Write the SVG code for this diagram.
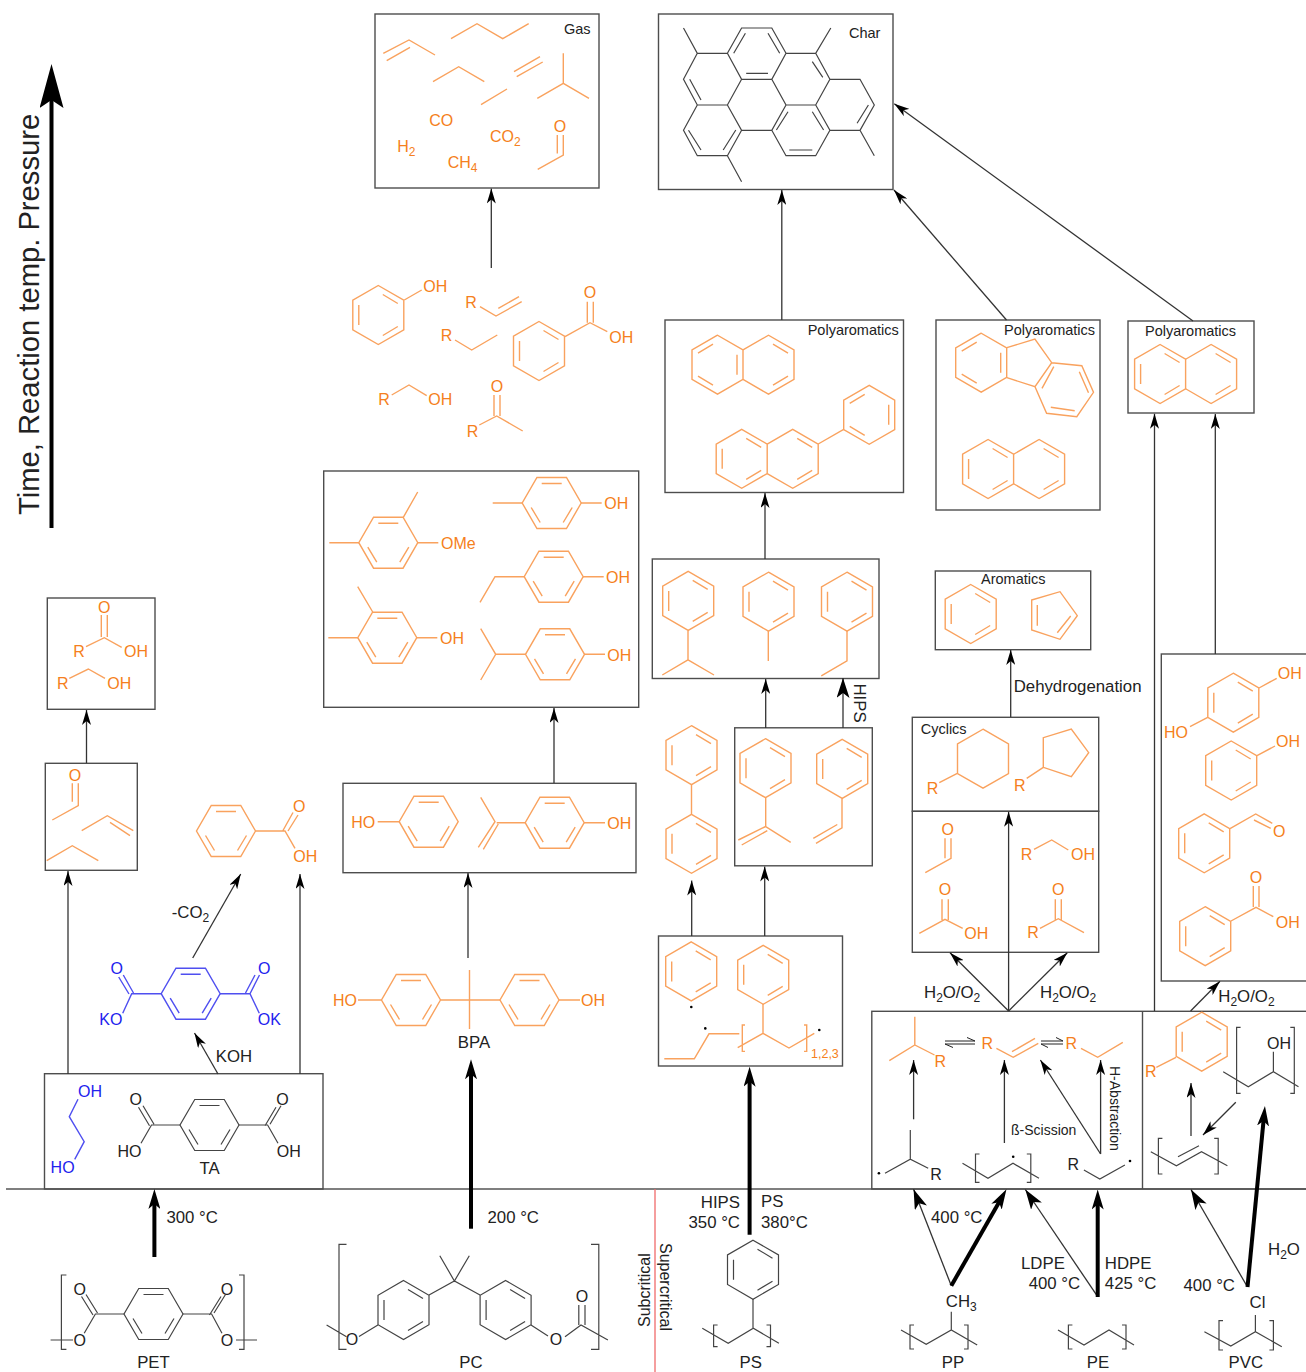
<svg xmlns="http://www.w3.org/2000/svg" width="1306" height="1372" viewBox="0 0 1306 1372">
<style>
.o{fill:none;stroke:#f9a25e;stroke-width:1.4}
.k{fill:none;stroke:#444;stroke-width:1.2}
.b{fill:none;stroke:#4f4ff0;stroke-width:1.4}
.box{fill:none;stroke:#4d4d4d;stroke-width:1.4}
text{font-family:"Liberation Sans",Arial,sans-serif;font-size:16px;fill:#222;stroke:none}
text.to{fill:#f57f20}
text.tb{fill:#2222ee}
text.c{text-anchor:middle}
text.e{text-anchor:end}
text.s{font-size:14.5px}
text.n,#labels text{font-size:16.8px}
.sub{font-size:12px;baseline-shift:-4px}
.con{fill:none;stroke:#333;stroke-width:1.3;marker-end:url(#a)}
.big{fill:none;stroke:#333;stroke-width:1.3;marker-end:url(#bt)}
.thick{fill:none;stroke:#000;stroke-width:4;marker-end:url(#b)}
.eq{fill:none;stroke:#222;stroke-width:1}
</style>
<defs>
<marker id="a" markerUnits="userSpaceOnUse" markerWidth="15" markerHeight="9" refX="15" refY="4.5" orient="auto"><path d="M0,0 L15,4.5 L0,9 L4,4.5Z" fill="#000"/></marker>
<marker id="b" markerUnits="userSpaceOnUse" markerWidth="20" markerHeight="12" refX="8" refY="6" orient="auto"><path d="M0,0 L20,6 L0,12 L5,6Z" fill="#000"/></marker>
<marker id="bt" markerUnits="userSpaceOnUse" markerWidth="20" markerHeight="13" refX="20" refY="6.5" orient="auto"><path d="M0,0 L20,6.5 L0,13 L5,6.5Z" fill="#000"/></marker>
<marker id="ax" markerUnits="userSpaceOnUse" markerWidth="44" markerHeight="24" refX="8" refY="12" orient="auto"><path d="M0,0 L44,12 L0,24 L8,12Z" fill="#000"/></marker>
<g id="rp"><path d="M0,-29.5 L25.5,-14.75 V14.75 L0,29.5 L-25.5,14.75 V-14.75Z"/><path d="M4.5,-20.5 L19.5,-11.5 M19.5,11.5 L4.5,20.5 M-19.5,-10 V10"/></g>
<g id="rm" transform="scale(-1,1)"><use href="#rp"/></g>
<g id="rf" transform="rotate(90)"><use href="#rp"/></g>
<path id="nr" d="M0,-14.75 L25.5,-29.5 L51,-14.75 V14.75 L25.5,29.5 L0,14.75 M30,-20.5 L45,-11.5 M45,11.5 L30,20.5"/>
<g id="nA"><use href="#rm" x="-25.5"/><use href="#nr"/></g>
<g id="nB"><use href="#rp" x="-25.5"/><use href="#nr"/></g>
</defs>
<rect width="1306" height="1372" fill="#fff"/>

<g id="frame">
<path d="M6,1189 H1306" stroke="#555" stroke-width="1.3" fill="none"/>
<path d="M655,1189 V1372" stroke="#f06a6a" stroke-width="1.3" fill="none"/>
<text transform="translate(650,1327) rotate(-90)">Subcritical</text>
<text transform="translate(660,1243) rotate(90)">Supercritical</text>
</g>

<g id="axis">
<path d="M51.5,528 V100" fill="none" stroke="#000" stroke-width="4" marker-end="url(#ax)"/>
<text transform="translate(38.5,515) rotate(-90)" style="font-size:29.2px">Time, Reaction temp. Pressure</text>
</g>

<g id="gas">
<rect class="box" x="375" y="14" width="224" height="174"/>
<text class="s" x="564" y="33.5">Gas</text>
<path class="o" d="M383.3,53.3 L409,40 L435,55 M386.7,60.7 L410,47.3 M451,38.7 L477,23.7 L502.7,38.7 L528.7,23.7 M433,81.7 L458.7,66.7 L484.3,81.7 M514,71.7 L540,56.7 M516.7,76.7 L542.7,62 M481,104.7 L507,89 M563.3,53.3 V83.3 M537.3,98.3 L563.3,83.3 L589,98.3 M557.3,135 V153.5 M563.3,135 V155 L537.7,169.3"/>
<text class="to c" x="441.3" y="126">CO</text>
<text class="to" x="490" y="141.7">CO<tspan class="sub">2</tspan></text>
<text class="to" x="397.3" y="151.7">H<tspan class="sub">2</tspan></text>
<text class="to" x="447.7" y="168.3">CH<tspan class="sub">4</tspan></text>
<text class="to c" x="560" y="132">O</text>
</g>

<g id="oxygenates" class="o">
<use href="#rp" x="378.3" y="315"/>
<path d="M404.3,300 L421.7,290 M480,306.7 L496,316 L521.7,301.7 M498.3,308.3 L519,296.7 M455,340 L471.7,350 L497.3,335"/>
<use href="#rp" x="539" y="351"/>
<path d="M565,336.7 L590,322.7 L607.3,331.7 M587.3,301.7 V322.7 M593.3,301.7 V322.7 M391.7,395 L409,385 L426.7,395.7 M479.3,425 L496.7,416 L522.7,431 M494,395 V416 M500,395 V416"/>
<text class="to" x="423.3" y="291.7">OH</text>
<text class="to" x="465.3" y="308.3">R</text>
<text class="to" x="440.7" y="341">R</text>
<text class="to" x="609.3" y="342.7">OH</text>
<text class="to c" x="590" y="298.3">O</text>
<text class="to" x="378.3" y="405.3">R</text>
<text class="to" x="428.3" y="405.3">OH</text>
<text class="to" x="466.7" y="436.7">R</text>
<text class="to c" x="497" y="392.3">O</text>
</g>

<g id="char">
<rect class="box" x="658.5" y="14" width="234.5" height="175.5"/>
<text class="s" x="849" y="37.7">Char</text>
<path class="k" d="M727.4,53.3 L741.6,28 H771.8 L786,53.3 L771.8,79.3 H741.6Z M683.5,28 L697.3,53.3 H727.4 M697.3,53.3 L683.5,79.3 L697.3,105 H727.4 L741.6,79.3 M727.4,105 L741.6,130.3 H771.8 L786,105 L771.8,79.3 M786,53.3 H815.7 L830.8,28 M815.7,53.3 L829.9,79.3 L815.7,105 H786 M829.9,79.3 H860 L874.3,105 L860,130.3 H829.9 M860,130.3 L874.3,155.7 M815.7,105 L829.9,130.3 L815.7,155.7 H786 L771.8,130.3 M697.3,105 L683.5,130.3 L697.3,155.7 H727.4 L741.6,130.3 M727.4,155.7 L741.6,181.7 M733.7,53.3 L745.4,33.3 M768,33.3 L779.7,53.3 M746.2,73.3 H768 M812.3,61.7 L822.8,77.3 M689.7,79.3 L701,100 M868.4,105 L857.1,123.3 M776.4,130 L788,111.7 M812.3,111.7 L823.6,130 M789.3,150 H812.3 M688.5,130.3 L701,150 M723.2,150 L735.8,130"/>
</g>

<g id="polyaromatics-1" class="o">
<rect class="box" x="665" y="320" width="238.5" height="172.5"/>
<text class="s" x="807.7" y="335">Polyaromatics</text>
<use href="#nA" x="743" y="364.7"/>
<use href="#nB" x="767.2" y="458.8"/>
<use href="#rm" x="869.2" y="414.8"/>
<path d="M818.2,444 L843.7,429.3"/>
</g>

<g id="polyaromatics-2" class="o">
<rect class="box" x="936" y="320" width="164" height="190"/>
<text class="s" x="1004" y="335">Polyaromatics</text>
<use href="#rm" x="981.2" y="362.7"/>
<path d="M1006.9,347.7 L1034.9,339 L1051.7,362.7 L1035,386.7 L1006.9,377.7 M1051.7,362.7 L1081.8,365.7 L1093.5,392.3 L1076.8,416.7 L1046.6,413.3 L1035,386.7 M1053.8,366.7 L1042,388.3 M1079.3,371.7 L1088.5,392.7 M1050.8,407.3 L1074.7,410.7"/>
<use href="#nB" x="1013.6" y="469"/>
</g>

<g id="polyaromatics-3" class="o">
<rect class="box" x="1128" y="321" width="126" height="92"/>
<text class="s" x="1145" y="336">Polyaromatics</text>
<use href="#nB" x="1185.6" y="374"/>
</g>

<g id="aromatics" class="o">
<rect class="box" x="935.3" y="571" width="155.4" height="78.7"/>
<text class="s" x="981" y="584.3">Aromatics</text>
<use href="#rp" x="970.7" y="614"/>
<path d="M1031.7,600 L1060,591.7 L1077.3,615.7 L1060,639.3 L1031.7,630Z M1037.3,605 V625.7 M1057.3,632.7 L1070.7,616"/>
</g>

<g id="cyclics" class="o">
<rect class="box" x="912.3" y="717.3" width="186.4" height="94"/>
<text class="s" x="920.7" y="734.3">Cyclics</text>
<path d="M983,729.2 L1008.5,744 V773.5 L983,788.2 L957.5,773.5 V744Z M957.3,773.3 L939.3,782.7 M1043.3,767.3 V737.7 L1071.3,729 L1088.7,752.7 L1071.3,776.7Z M1043.3,767.3 L1026.7,778.3"/>
<text class="to" x="926.7" y="794">R</text>
<text class="to" x="1014" y="790.7">R</text>
</g>

<g id="oxygenates-2" class="o">
<rect class="box" x="912.3" y="811.3" width="186.4" height="141"/>
<path d="M945,838.3 V858.3 M951,838.3 V858.3 L925.3,872.7 M1034,849.3 L1051.7,840 L1068.3,850 M942,899.3 V920 M948.3,899.3 V920 M919.3,933.3 L945,919.3 L962.7,928.3 M1055.3,899.3 V920 M1061.3,899.3 V920 M1040,928.3 L1058.3,918.7 L1084,932.7"/>
<text class="to c" x="947.7" y="835">O</text>
<text class="to" x="1020.7" y="860">R</text>
<text class="to" x="1071" y="860">OH</text>
<text class="to c" x="945" y="895.3">O</text>
<text class="to" x="964.3" y="939.3">OH</text>
<text class="to c" x="1058.3" y="895">O</text>
<text class="to" x="1027.3" y="938.3">R</text>
</g>

<g id="phenols" class="o">
<rect class="box" x="1161.3" y="654" width="150" height="327"/>
<use href="#rp" x="1233.3" y="702.7"/>
<use href="#rp" x="1231.2" y="770.5"/>
<use href="#rp" x="1204.2" y="843.3"/>
<use href="#rp" x="1205.2" y="936.2"/>
<path d="M1259,688 L1276.7,678.3 M1207.7,717.3 L1190,726.7 M1257,755.7 L1275,746 M1230,828.7 L1255.7,814 L1272.3,823.3 M1254,820 L1270.7,828.3 M1231,921 L1256,907.3 L1273.3,916.7 M1253.3,886 V907 M1259,886 V907"/>
<text class="to" x="1277.7" y="679">OH</text>
<text class="to" x="1164" y="737.7">HO</text>
<text class="to" x="1276" y="746.7">OH</text>
<text class="to c" x="1279.3" y="836.7">O</text>
<text class="to" x="1275.7" y="927.7">OH</text>
<text class="to c" x="1256" y="883.3">O</text>
</g>

<g id="alkylbenzenes" class="o">
<rect class="box" x="652.3" y="559" width="226.7" height="119.5"/>
<use href="#rp" x="688.2" y="600.9"/>
<use href="#rp" x="768.5" y="601.7"/>
<use href="#rp" x="847" y="601.7"/>
<path d="M688,630.5 V659.9 M662.3,675 L688,659.9 L714,675 M768.3,631.1 V660.9 M847,631.1 V660.9 L821.3,675.8"/>
</g>

<g id="biphenyl" class="o">
<use href="#rp" x="691.5" y="755.2"/>
<use href="#rp" x="691.5" y="843.8"/>
<path d="M691.5,784.6 V814.4"/>
</g>

<g id="styrenes" class="o">
<rect class="box" x="734.7" y="727.8" width="137.6" height="138"/>
<use href="#rp" x="765.5" y="768.2"/>
<use href="#rp" x="842.2" y="768.9"/>
<path d="M765.7,797.8 V826.5 L790.7,842.4 M765.7,826.5 L738.3,840 M767.3,830.6 L741.7,845 M842,798.5 V827.9 L816,843.4 M837.3,824.5 L813.3,838.4"/>
</g>

<g id="ps-radicals" class="o">
<rect class="box" x="658.5" y="936" width="184" height="130"/>
<use href="#rp" x="691.2" y="971.4"/>
<use href="#rp" x="763.2" y="974.8"/>
<path d="M763,1004 V1033.4 M664.3,1058.8 H694.3 L709,1033.8 H739.3 M737.7,1047.6 L763,1033.4 L789,1048 L814.3,1033.4 M745,1025 H742.3 V1051.4 H745 M804,1025 H806.7 V1051.4 H804"/>
<circle cx="691.3" cy="1007" r="1.3" fill="#000" stroke="none"/>
<circle cx="705.3" cy="1028.4" r="1.3" fill="#000" stroke="none"/>
<circle cx="819.3" cy="1030" r="1.3" fill="#000" stroke="none"/>
<text class="to" x="811" y="1058" style="font-size:12.5px">1,2,3</text>
</g>

<g id="cresols" class="o">
<rect class="box" x="323.7" y="471" width="315" height="236.3"/>
<use href="#rf" x="388.3" y="542.7"/>
<use href="#rf" x="387.3" y="637.7"/>
<use href="#rf" x="551.7" y="503"/>
<use href="#rf" x="553.7" y="576.7"/>
<use href="#rf" x="555" y="654.3"/>
<path d="M329.3,542.7 H359 M417.7,542.7 H438.3 M403.3,517.3 L417.7,492 M328.3,637.7 H358 M416.7,637.7 H437.3 M372.7,612 L357.7,586.7 M492.7,503 H522.3 M581,503 H601.7 M524.3,576.7 H495 L480,602.3 M583,576.7 H603.7 M525.7,654.3 H495.7 M480.7,628.7 L495.7,654.3 L480.7,680 M584.3,654.3 H605"/>
<text class="to" x="441" y="548.7">OMe</text>
<text class="to" x="440" y="644">OH</text>
<text class="to" x="604.3" y="509.3">OH</text>
<text class="to" x="606" y="583">OH</text>
<text class="to" x="607.3" y="660.7">OH</text>
</g>

<g id="bpa-fragments" class="o">
<rect class="box" x="343" y="783.3" width="293" height="89.4"/>
<use href="#rf" x="428.7" y="821.7"/>
<use href="#rf" x="554.7" y="822.7"/>
<path d="M377.7,821.7 H399.3 M584,822.7 H605 M525.3,822.7 H496.7 M480.7,797.3 L495,821.7 L478.3,847.3 M498.3,824 L483.3,849.3"/>
<text class="to" x="351.3" y="827.7">HO</text>
<text class="to" x="607.3" y="829">OH</text>
</g>

<g id="bpa" class="o">
<use href="#rf" x="411" y="1000"/>
<use href="#rf" x="529.5" y="1000"/>
<path d="M440.5,1000 H500 M469.5,970 V1029 M358,1000 H381.5 M559,1000 H580"/>
<text class="to" x="333" y="1006">HO</text>
<text class="to" x="581" y="1006">OH</text>
<text class="c n" x="474" y="1048.3">BPA</text>
</g>

<g id="acid-alcohol" class="o">
<rect class="box" x="47.3" y="598" width="107.7" height="111.3"/>
<path d="M101.3,615 V637 M107.3,615 V637 M86,646.7 L104.3,637.7 L121.7,647.3 M69.3,678.3 L88.3,669 L105,678.3"/>
<text class="to c" x="104.3" y="612.7">O</text>
<text class="to" x="73.3" y="656.7">R</text>
<text class="to" x="124" y="656.7">OH</text>
<text class="to" x="57" y="688.7">R</text>
<text class="to" x="107.3" y="688.7">OH</text>
</g>

<g id="small-gases" class="o">
<rect class="box" x="45.3" y="763.3" width="92" height="107"/>
<path d="M72.3,783.3 V801.7 M78.3,783.3 V805.7 L52.3,820 M81.7,830.7 L107.3,815.7 L133.3,830.7 M110,822.3 L130,835.7 M46.7,860.7 L72.3,845.7 L98.3,860.7"/>
<text class="to c" x="75" y="781">O</text>
</g>

<g id="benzoic-acid" class="o">
<use href="#rf" x="226" y="831"/>
<path d="M255.3,831 H285 L295,848.3 M282.7,831 L293,812.5 M288,831 L298,815"/>
<text class="to c" x="299.3" y="811.7">O</text>
<text class="to" x="293.3" y="862.3">OH</text>
</g>

<g id="potassium-terephthalate" class="b">
<use href="#rf" x="190.7" y="993.7"/>
<path d="M161.7,993.7 H131.7 L122.7,1013.3 M133.5,993 L123.3,975 M129,994 L118.7,977 M220,993.7 H250 L259.3,1013.3 M250,993.7 L259.5,975 M245.5,993 L255,975"/>
<text class="tb c" x="116.7" y="974">O</text>
<text class="tb" x="99.3" y="1025">KO</text>
<text class="tb c" x="264.3" y="974">O</text>
<text class="tb" x="257.7" y="1025">OK</text>
</g>

<g id="ta-box">
<rect class="box" x="44.5" y="1073.7" width="278.5" height="115.3"/>
<path class="b" d="M78,1099.3 L69.3,1116.7 L84.2,1141.7 L74.7,1159.3"/>
<text class="tb" x="78" y="1096.7">OH</text>
<text class="tb" x="50.6" y="1173.3">HO</text>
<g class="k">
<use href="#rf" x="209.5" y="1125"/>
<path d="M180.5,1125 H151.5 L141,1143.3 M149.5,1125.7 L138.5,1107.3 M154,1124.3 L143,1105.7 M238.6,1125 H267.6 L278,1143.3 M265,1125.7 L276,1107.3 M270,1124.3 L281,1105.7"/>
</g>
<text class="c" x="135.7" y="1105.3">O</text>
<text x="117.4" y="1156.7">HO</text>
<text class="c" x="282.6" y="1105.3">O</text>
<text x="276.8" y="1156.7">OH</text>
<text class="c n" x="209.5" y="1174.3">TA</text>
</g>

<g id="pet" class="k">
<use href="#rf" x="153.5" y="1314"/>
<path d="M124.5,1314 H95.4 L84.2,1333.3 M93,1315 L81.5,1296.5 M97.5,1313 L86,1294.5 M182.6,1314 H211.6 L222,1333.3 M209.5,1315 L221,1296.5 M214,1313 L225.5,1294.5 M50.6,1340 H73 M236,1340 H257 M66.4,1275 H61.4 V1349.3 H66.4 M239,1275 H244 V1349.3 H239"/>
<text class="c" x="79.7" y="1295">O</text>
<text class="c" x="79.7" y="1345.7">O</text>
<text class="c" x="227" y="1295">O</text>
<text class="c" x="227" y="1345.7">O</text>
<text class="c n" x="153.5" y="1368.3">PET</text>
</g>

<g id="pc" class="k">
<use href="#rp" x="403.5" y="1310"/>
<use href="#rp" x="505.6" y="1310"/>
<path d="M429,1295 L454.4,1281 L480,1295 M439.8,1255.7 L454.4,1281 L469.3,1255.7 M377.9,1325 L359,1336.5 M326.6,1325 L346.5,1336.7 M531,1325 L548,1336 M565,1336.7 L581,1325 L607.9,1340 M578.8,1305 V1325 M585,1305 V1325 M346.5,1244.3 H339 V1349.3 H346.5 M591,1244.3 H598.8 V1349.3 H591"/>
<text class="c" x="351.9" y="1345">O</text>
<text class="c" x="556" y="1345">O</text>
<text class="c" x="582" y="1301.7">O</text>
<text class="c n" x="471" y="1368.3">PC</text>
</g>

<g id="ps" class="k">
<use href="#rp" x="753" y="1269.7"/>
<path d="M753,1299 V1328.7 M702.3,1328.3 L728.2,1343.3 L753.3,1328.3 L778.9,1343.3 M717.6,1325 H713.6 V1346.7 H717.6 M766.5,1325 H770.5 V1346.7 H766.5"/>
<text class="c n" x="750.8" y="1368.3">PS</text>
</g>

<g id="pp" class="k">
<path d="M951.3,1311.7 V1330 M901,1330 L926.2,1344.3 L951.3,1330 L977.2,1345 M914,1325 H910 V1349 H914 M964,1325 H968 V1349 H964"/>
<text class="n" x="945.8" y="1307.3">CH<tspan class="sub">3</tspan></text>
<text class="c n" x="953" y="1368.3">PP</text>
</g>

<g id="pe" class="k">
<path d="M1058,1330 L1084,1345 L1109,1330 L1134,1345 M1072.4,1325 H1068.4 V1349 H1072.4 M1122,1325 H1126 V1349 H1122"/>
<text class="c n" x="1098" y="1368.3">PE</text>
</g>

<g id="pvc" class="k">
<path d="M1255.4,1315 V1331.7 M1204.4,1331.7 L1230.8,1346 L1255.4,1331.7 L1281.8,1346.7 M1223,1320.7 H1219 V1350 H1223 M1269.4,1320.7 H1273.4 V1350 H1269.4"/>
<text class="n" x="1249.6" y="1308.3">Cl</text>
<text class="c n" x="1245.8" y="1368.3">PVC</text>
</g>

<g id="reaction-box">
<rect class="box" x="871.8" y="1011.3" width="440" height="177.7"/>
<path class="box" d="M1142.5,1011.3 V1189"/>
<g class="o">
<path d="M914.8,1016.7 V1045 M889.3,1060.7 L914.8,1045 L934.5,1055 M996.4,1048.3 L1013.2,1057.3 L1038.3,1043.3 M1012,1051.7 L1035,1038.3 M1081,1048.3 L1097.7,1057.3 L1122.8,1042.3"/>
<use href="#rp" x="1201.7" y="1041.7"/>
<path d="M1176,1057.3 L1156.3,1067.3"/>
</g>
<text class="to" x="934.5" y="1066.7">R</text>
<text class="to" x="981.4" y="1049.3">R</text>
<text class="to" x="1065.5" y="1049.3">R</text>
<text class="to" x="1145" y="1077.3">R</text>
<g class="k">
<path d="M910.3,1130 V1159.3 M885,1173.3 L910.3,1159.3 L928.2,1168.3 M962.5,1163.3 L988,1178.3 L1013,1163.3 L1039,1178.3 M979.5,1154 H975.5 V1182.3 H979.5 M1026.8,1154 H1030.8 V1182.3 H1026.8 M1083.9,1170 L1099.8,1179 L1124.9,1165 M1223.2,1071.7 L1248.3,1086.7 L1273.4,1071.7 L1298.5,1086.7 M1273.4,1071.7 V1051.7 M1240.6,1027.3 H1236.6 V1093.3 H1240.6 M1290.3,1027.3 H1294.3 V1093.3 H1290.3 M1150.8,1151.7 L1176.4,1165.7 L1201.5,1151.7 L1227.4,1165.7 M1178,1156.7 L1199,1145.7 M1162.4,1138.3 H1158.4 V1174 H1162.4 M1214.2,1138.3 H1218.2 V1174 H1214.2"/>
</g>
<circle cx="878.9" cy="1173.3" r="1.3" fill="#000"/>
<circle cx="1013.2" cy="1156.7" r="1.3" fill="#000"/>
<circle cx="1130" cy="1161" r="1.3" fill="#000"/>
<text x="930.3" y="1180">R</text>
<text x="1067.6" y="1170">R</text>
<text x="1267" y="1049">OH</text>
<g class="eq">
<path d="M945,1041 H975 M967,1037.5 L975,1041 M945,1044 H975 M945,1044 L953,1047.5"/>
<path d="M1041,1041 H1063 M1056,1037.5 L1063,1041 M1041,1044 H1063 M1041,1044 L1048,1047.5"/>
</g>
</g>

<g id="connectors">
<path class="con" d="M86.5,763 V710"/>
<path class="con" d="M68,1074 V871"/>
<path class="con" d="M300,1074 V874"/>
<path class="con" d="M218,1074 L194.5,1033"/>
<path class="con" d="M192.7,958 L240.7,874"/>
<path class="con" d="M468,958 V873"/>
<path class="con" d="M554,783 V708"/>
<path class="con" d="M491.3,268 V188.5"/>
<path class="con" d="M691.7,936 V880.5"/>
<path class="con" d="M764.7,936 V866.5"/>
<path class="con" d="M765.7,728 V679"/>
<path class="big" d="M843,728 V678"/>
<path class="con" d="M765,559 V493"/>
<path class="con" d="M781.8,320 V190"/>
<path class="con" d="M1006.5,320 L894,190"/>
<path class="con" d="M1193,321 L894.3,103.7"/>
<path class="con" d="M1154.5,1011 V413.7"/>
<path class="con" d="M1215.3,654 V414"/>
<path class="con" d="M1190.6,1011 L1220,981.3"/>
<path class="con" d="M1010.7,717 V650"/>
<path class="con" d="M1008.6,1011 V811.7"/>
<path class="con" d="M1008.6,1011 L950,952.7"/>
<path class="con" d="M1008.6,1011 L1067.3,952.7"/>
<path class="con" d="M913.6,1119.3 V1060"/>
<path class="con" d="M1004.4,1143 V1060"/>
<path class="con" d="M1100.6,1154 L1040.4,1060"/>
<path class="con" d="M1100.6,1154 V1060"/>
<path class="con" d="M1191,1136 V1083"/>
<path class="con" d="M1235.8,1102.3 L1203,1135"/>
<path class="big" d="M951.3,1285.7 L913.6,1189.3"/>
<path class="big" d="M1097.7,1296.7 L1025.3,1189.5"/>
<path class="big" d="M1247.5,1287 L1191,1189.5"/>
<path class="thick" d="M154.4,1257 V1201"/>
<path class="thick" d="M471,1228.7 V1071.3"/>
<path class="thick" d="M749.6,1234.7 V1078.7"/>
<path class="thick" d="M951.3,1285.7 L1000.5,1199.7"/>
<path class="thick" d="M1097.7,1297 V1201.5"/>
<path class="thick" d="M1247.5,1287 L1263.8,1118"/>
</g>

<g id="labels">
<text x="166.4" y="1223.3">300 °C</text>
<text x="487.5" y="1223.3">200 °C</text>
<text x="215.8" y="1062">KOH</text>
<text x="171.7" y="918.3">-CO<tspan class="sub">2</tspan></text>
<text class="e" x="740" y="1207.7">HIPS</text>
<text class="e" x="740" y="1228.3">350 °C</text>
<text x="761" y="1207">PS</text>
<text x="761" y="1228.3">380°C</text>
<text x="931" y="1222.7">400 °C</text>
<text x="1021" y="1269">LDPE</text>
<text x="1028.7" y="1289">400 °C</text>
<text x="1104.8" y="1269">HDPE</text>
<text x="1104.8" y="1289">425 °C</text>
<text x="1183.5" y="1290.7">400 °C</text>
<text x="1268" y="1255">H<tspan class="sub">2</tspan>O</text>
<text x="924" y="998">H<tspan class="sub">2</tspan>O/O<tspan class="sub">2</tspan></text>
<text x="1040" y="998">H<tspan class="sub">2</tspan>O/O<tspan class="sub">2</tspan></text>
<text x="1218.3" y="1002">H<tspan class="sub">2</tspan>O/O<tspan class="sub">2</tspan></text>
<text x="1013.7" y="692.3">Dehydrogenation</text>
<text x="1011" y="1135" style="font-size:14px">ß-Scission</text>
<text transform="translate(1110,1066) rotate(90)" style="font-size:14px">H-Abstraction</text>
<text transform="translate(854,683.5) rotate(90)">HIPS</text>
</g>
</svg>
